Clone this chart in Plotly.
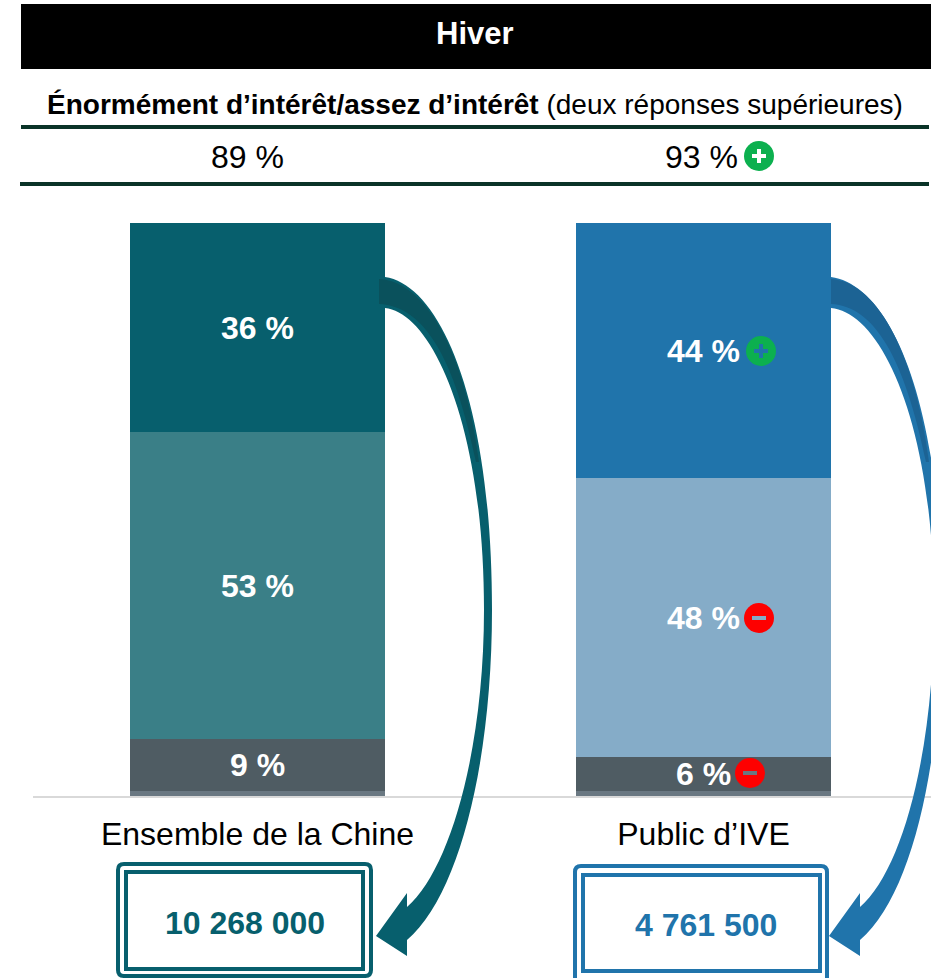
import plotly.graph_objects as go

W, H = 931, 978

# Values
categories = ["Ensemble de la Chine", "Public d’IVE"]
tres_interesse = [36, 44]
assez_interesse = [53, 48]
peu_interesse = [9, 6]
pas_interesse = [0.8, 0.8]
top2_labels = ["89 %", "93 %"]
totals = ["10 268 000", "4 761 500"]

TEAL = "#075f6d"
BLUE = "#2074ab"
GREEN = "#0cb04f"
RED = "#fe0000"
LINE = "#0a3328"
FONT = "Liberation Sans, Arial, sans-serif"


# Pixel position in the picture -> paper coordinates
def px(x):
    return x / W


def py(y):
    return 1 - y / H


def add_rect(shapes, x0, y0, x1, y1, fill=None, line=None, width=0):
    shapes.append(dict(type="rect", xref="paper", yref="paper", x0=px(x0), y0=py(y0),
                       x1=px(x1), y1=py(y1), fillcolor=fill or "rgba(0,0,0,0)",
                       line=dict(color=line or "rgba(0,0,0,0)", width=width)))


def path_of(points):
    # points: ("M", x, y), ("C", x1, y1, x2, y2, x, y), ("L", x, y), ("Q", x1, y1, x, y)
    out = ""
    for p in points:
        coords = [px(v) if i % 2 == 0 else py(v) for i, v in enumerate(p[1:])]
        out += p[0] + " " + " ".join(f"{c:.5f}" for c in coords) + " "
    return out + "Z"


def add_arrow(shapes, dx_top, dx_bot, start, band_start, color, dark):
    # whole arrow, start of the band at the bar, head at the box
    arrow = [("M", start, 277),
             ("C", 440 + dx_top, 285, 492 + dx_top, 400, 492 + dx_top, 610),
             ("C", 492 + dx_top, 760, 460 + dx_bot, 895, 407 + dx_bot, 940),
             ("L", 407 + dx_bot, 956), ("L", 376 + dx_bot, 936), ("L", 407 + dx_bot, 893),
             ("L", 407 + dx_bot, 907),
             ("C", 450 + dx_bot, 870, 484 + dx_top, 750, 484 + dx_top, 610),
             ("C", 484 + dx_top, 420, 430 + dx_top, 312, start, 308)]
    shapes.append(dict(type="path", xref="paper", yref="paper", path=path_of(arrow),
                       fillcolor=color, line=dict(width=0)))
    # darker band where the arrow leaves the bar
    band = [("M", band_start, 279),
            ("C", 425 + dx_top, 281, 465 + dx_top, 350, 479 + dx_top, 462),
            ("L", 476 + dx_top, 462),
            ("C", 455 + dx_top, 360, 425 + dx_top, 306, band_start, 304)]
    shapes.append(dict(type="path", xref="paper", yref="paper", path=path_of(band),
                       fillcolor=dark, line=dict(width=0)))


def add_badge(shapes, cx, cy, fill, mark, plus):
    shapes.append(dict(type="circle", xref="paper", yref="paper", x0=px(cx - 15), y0=py(cy - 15),
                       x1=px(cx + 15), y1=py(cy + 15), fillcolor=fill, line=dict(width=0)))
    add_rect(shapes, cx - 7, cy - 2, cx + 7, cy + 2, fill=mark)
    if plus:
        add_rect(shapes, cx - 2, cy - 7, cx + 2, cy + 7, fill=mark)


def add_round_box(shapes, x0, y0, x1, y1, color, r=6):
    box = [("M", x0 + r, y0), ("L", x1 - r, y0), ("Q", x1, y0, x1, y0 + r),
           ("L", x1, y1 - r), ("Q", x1, y1, x1 - r, y1), ("L", x0 + r, y1),
           ("Q", x0, y1, x0, y1 - r), ("L", x0, y0 + r), ("Q", x0, y0, x0 + r, y0)]
    shapes.append(dict(type="path", xref="paper", yref="paper", path=path_of(box),
                       fillcolor="rgba(0,0,0,0)", line=dict(color=color, width=4)))


fig = go.Figure()

stack = [
    (pas_interesse, ["#6a7882", "#6a7882"], False),
    (peu_interesse, ["#4f5c63", "#4f5c63"], True),
    (assez_interesse, ["#3a7f87", "#85acc8"], True),
    (tres_interesse, [TEAL, BLUE], True),
]
for values, colors, show_text in stack:
    fig.add_trace(go.Bar(
        x=categories, y=values, width=255 / 446, marker=dict(color=colors, line=dict(width=0)),
        text=[f"{v} %" for v in values] if show_text else None,
        textposition="inside" if show_text else "none", insidetextanchor="middle",
        textangle=0, constraintext="none",
        textfont=dict(family=FONT, size=32, color="white", weight="bold"),
        showlegend=False,
    ))

shapes = []
add_rect(shapes, 21, 4, 931, 69, fill="black")
add_rect(shapes, 21, 125, 929, 129, fill=LINE)
add_rect(shapes, 20, 182, 929, 186, fill=LINE)
add_arrow(shapes, 0, 0, 385, 379, TEAL, "#0a515c")
add_arrow(shapes, 450, 453, 831, 831, BLUE, "#1c6394")
add_badge(shapes, 759, 156, GREEN, "white", True)
add_badge(shapes, 761, 351, GREEN, BLUE, True)
add_badge(shapes, 759, 618, RED, "#85acc8", False)
add_badge(shapes, 750, 773, RED, "#6a7882", False)

# Boxes with the population totals
add_round_box(shapes, 118, 864, 371, 976, TEAL)
add_round_box(shapes, 575, 866, 827, 990, BLUE)
add_rect(shapes, 126, 872, 363, 969, line=TEAL, width=4)
add_rect(shapes, 583, 875, 820, 971, line=BLUE, width=4)


def note(x, y, text, size=32, color="black", bold=False):
    return dict(xref="paper", yref="paper", x=px(x), y=py(y), text=f"<b>{text}</b>" if bold else text,
                showarrow=False, xanchor="center", yanchor="middle",
                font=dict(family=FONT, size=size, color=color))


annotations = [
    note(475, 34, "Hiver", size=31, color="white", bold=True),
    note(475, 104, "<b>Énormément d’intérêt/assez d’intérêt</b> (deux réponses supérieures)", size=28),
    note(248, 157, top2_labels[0]),
    note(701, 157, top2_labels[1]),
    note(244.5, 923, totals[0], color=TEAL, bold=True),
    note(705.5, 925, totals[1], color=BLUE, bold=True),
]

fig.update_layout(
    width=W, height=H, margin=dict(l=0, r=0, t=0, b=0), barmode="stack",
    paper_bgcolor="white", plot_bgcolor="white", shapes=shapes, annotations=annotations,
    bargap=0,
    xaxis=dict(domain=[33 / W, 1], range=[(33 - 257.5) / 446, (931 - 257.5) / 446],
               showline=True, linecolor="#d9d9d9", linewidth=2, showgrid=False,
               ticks="outside", ticklen=9, tickcolor="white",
               tickfont=dict(family=FONT, size=32, color="black")),
    yaxis=dict(domain=[py(796), py(223)], range=[0, 98.8], visible=False),
)

fig.write_html("out.html", config=dict(displayModeBar=False),
               post_script="document.body.style.margin = '0';")
